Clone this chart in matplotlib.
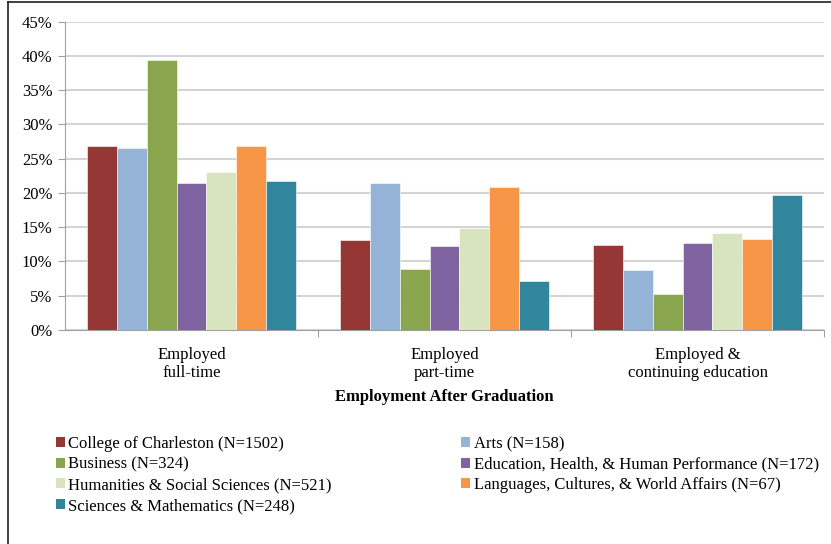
import matplotlib
matplotlib.use('Agg')
import matplotlib.pyplot as plt
from matplotlib.patches import Patch
from matplotlib.lines import Line2D
import numpy as np

plt.rcParams['font.family'] = ['Liberation Serif', 'DejaVu Serif']

groups = ['Employed\nfull-time', 'Employed\npart-time', 'Employed &\ncontinuing education']
series = ['College of Charleston (N=1502)', 'Arts (N=158)', 'Business (N=324)',
          'Education, Health, & Human Performance (N=172)',
          'Humanities & Social Sciences (N=521)',
          'Languages, Cultures, & World Affairs (N=67)',
          'Sciences & Mathematics (N=248)']
colors = ['#953735', '#95B3D7', '#89A54E', '#8064A2', '#D7E4BD', '#F79646', '#31859C']

college = [26.8, 13.1, 12.4]
arts = [26.5, 21.5, 8.8]
business = [39.4, 8.9, 5.2]
education = [21.5, 12.2, 12.7]
humanities = [23.1, 14.9, 14.2]
languages = [26.8, 20.9, 13.3]
sciences = [21.7, 7.2, 19.7]
values = [college, arts, business, education, humanities, languages, sciences]

fig = plt.figure(figsize=(8.31, 5.44), dpi=100)
ax = fig.add_axes([65/831, 214/544, 759/831, 308.5/544])

x = np.arange(len(groups))
w = 0.1175
for i, (vals, c) in enumerate(zip(values, colors)):
    ax.bar(x + (i - 3) * w, np.array(vals) / 100, w, color=c,
           edgecolor='white', linewidth=0.4, zorder=3)

ax.set_xlim(-0.5, 2.5)
ax.set_ylim(0, 0.45)
ax.set_yticks(np.arange(0, 0.451, 0.05))
ax.set_yticklabels([f'{int(round(v*100))}%' for v in np.arange(0, 0.451, 0.05)], fontsize=12)
ax.yaxis.grid(True, color='#D4D4D4', linewidth=1.5, zorder=0)
ax.set_axisbelow(True)

ax.set_xticks([0.5, 1.5, 2.5])
ax.set_xticklabels([])
ax.set_xticks(x, minor=True)
ax.set_xticklabels(groups, minor=True, fontsize=12)
ax.tick_params(axis='x', which='minor', length=0, pad=12)
ax.tick_params(axis='x', which='major', length=5, color='#A0A0A0')
ax.tick_params(axis='y', length=5, color='#A0A0A0', pad=4)

for s in ['top', 'right']:
    ax.spines[s].set_visible(False)
for s in ['left', 'bottom']:
    ax.spines[s].set_color('#A0A0A0')

ax.set_xlabel('Employment After Graduation', fontsize=12, fontweight='bold', labelpad=6)

# legend, two columns placed separately (row-wise order like Excel)
handles = [Patch(facecolor=c) for c in colors]
leg_kw = dict(loc='upper left', frameon=False, fontsize=12, handlelength=0.55,
              handleheight=0.55, handletextpad=0.2, labelspacing=0.28,
              borderpad=0, borderaxespad=0)
for col, x0 in [([0, 2, 4, 6], 56), ([1, 3, 5], 461)]:
    fig.legend([handles[i] for i in col], [series[i] for i in col],
               bbox_to_anchor=(x0/831, 1 - 436/544), **leg_kw)

fig.add_artist(Line2D([7.5/831, 7.5/831], [0, 1 - 1.5/544], color='#202020',
                      linewidth=1.2, transform=fig.transFigure))
fig.add_artist(Line2D([7.5/831, 1], [1 - 1.5/544, 1 - 1.5/544], color='#202020',
                      linewidth=1.2, transform=fig.transFigure))

fig.savefig('out.png', dpi=100)
